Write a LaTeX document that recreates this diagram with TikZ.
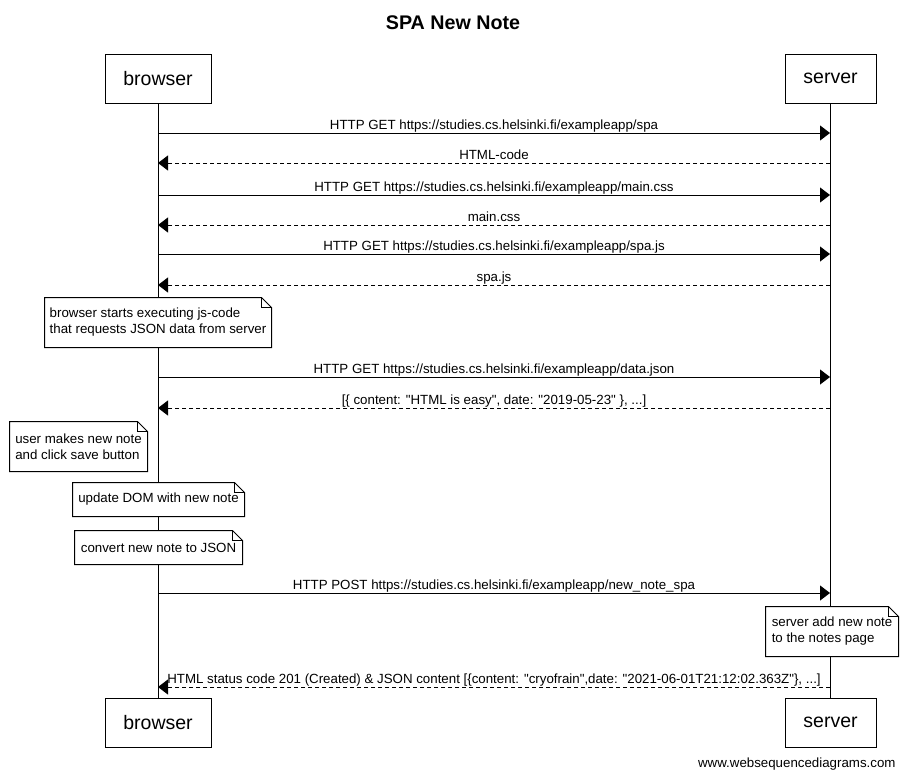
\documentclass[tikz,border=0pt]{standalone}
\usepackage{fontspec}
\setmainfont{Liberation Sans}[Ligatures=TeXOff]
\usetikzlibrary{arrows.meta}

\newcommand{\dogear}[1]{%
  \draw (#1.south west) -- (#1.north west) -- ([xshift=-10pt]#1.north east)
    -- ([yshift=-10pt]#1.north east) -- (#1.south east) -- cycle;
  \draw ([xshift=-10pt]#1.north east) |- ([yshift=-10pt]#1.north east);}

\begin{document}
\begin{tikzpicture}[x=1pt, y=-1pt, line width=1pt,
    actor/.style={draw, fill=white, inner sep=0pt, minimum height=49pt,
      font=\fontsize{19.5}{22}\selectfont},
    note/.style={fill=white, inner sep=0pt, align=left,
      font=\fontsize{13.3}{16}\selectfont},
    lbl/.style={anchor=base, yshift=4pt, inner sep=0pt,
      font=\fontsize{13.3}{16}\selectfont},
    msg/.style={-{Triangle[length=10pt, width=15pt]}},
    reply/.style={msg, dash pattern=on 4pt off 3pt}]
                \useasboundingbox (0,0) rectangle (904,782);
                \node[anchor=base, font=\fontsize{19.7}{22}\selectfont\bfseries] (title) at (453,29) {SPA New Note};
                \node[actor, minimum width=106pt] (bt) at (158,78.5) {browser};
                \node[actor, minimum width=91pt] (st) at (830.5,78.5) {server};
                \node[actor, minimum width=106pt] (bb) at (158,722.5) {browser};
                \node[actor, minimum width=91pt] (sb) at (830.5,722.5) {server};
                \draw (bt.south) -- (bb.north);
                \draw (st.south) -- (sb.north);
                \foreach \i/\y in {1/133, 2/163, 3/195, 4/225, 5/254, 6/285, 7/377, 8/408, 9/593, 10/687}
                  {\coordinate (b\i) at (158,\y); \coordinate (s\i) at (830,\y);}
                \draw[msg] (b1) -- node[lbl] {HTTP GET https://studies.cs.helsinki.fi/exampleapp/spa} (s1);
                \draw[reply] (s2) -- node[lbl] {HTML-code} (b2);
                \draw[msg] (b3) -- node[lbl] {HTTP GET https://studies.cs.helsinki.fi/exampleapp/main.css} (s3);
                \draw[reply] (s4) -- node[lbl] {main.css} (b4);
                \draw[msg] (b5) -- node[lbl] {HTTP GET https://studies.cs.helsinki.fi/exampleapp/spa.js} (s5);
                \draw[reply] (s6) -- node[lbl] {spa.js} (b6);
                \node[note, minimum width=226pt, minimum height=49pt] (n1) at (158,322.5)
                  {browser starts executing js-code\\that requests JSON data from server};
                \dogear{n1}
                \draw[msg] (b7) -- node[lbl] {HTTP GET https://studies.cs.helsinki.fi/exampleapp/data.json} (s7);
                \draw[reply] (s8) -- node[lbl] {[\{ content: "HTML is easy", date: "2019-05-23" \}, ...]} (b8);
                \node[note, minimum width=137pt, minimum height=49pt] (n2) at (78.5,446.5)
                  {user makes new note\\and click save button};
                \dogear{n2}
                \node[note, minimum width=171pt, minimum height=33pt] (n3) at (158.5,499.5) {update DOM with new note};
                \dogear{n3}
                \node[note, minimum width=167pt, minimum height=33pt] (n4) at (158.5,547.5) {convert new note to JSON};
                \dogear{n4}
                \draw[msg] (b9) -- node[lbl] {HTTP POST https://studies.cs.helsinki.fi/exampleapp/new\_note\_spa} (s9);
                \node[note, minimum width=132pt, minimum height=49pt] (n5) at (832,631.5)
                  {server add new note\\to the notes page};
                \dogear{n5}
                \draw[reply] (s10) -- node[lbl] {HTML status code 201 (Created) \& JSON content [\{content: "cryofrain",date: "2021-06-01T21:12:02.363Z"\}, ...]} (b10);
                \node[anchor=base east, inner sep=0pt, font=\fontsize{13.3}{16}\selectfont] (credit) at (896,767) {www.websequencediagrams.com};
            \end{tikzpicture}
\end{document}
